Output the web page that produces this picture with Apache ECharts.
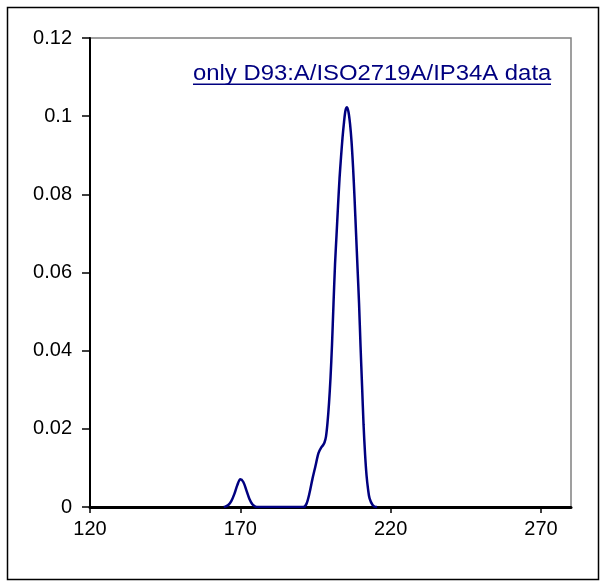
<!DOCTYPE html>
<html>
<head>
<meta charset="utf-8">
<script src="https://cdn.jsdelivr.net/npm/echarts@6/dist/echarts.min.js"></script>
<style>
html,body{margin:0;padding:0;background:#fff;}
#chart{width:601px;height:582px;}
</style>
</head>
<body>
<div id="chart"></div>
<script>
// Data
var xValues = [164.5,165,166,167,168,169,170,171,172,173,174,175,176,180,185,190,191,192,193,194,195,196,197,197.5,198,198.5,199,199.5,200,200.5,201,201.5,202,202.5,203,203.5,204,204.5,205,205.5,206,206.5,207,207.5,208,208.5,209,209.5,210,210.5,211,211.5,212,212.5,213,214,215,215.5];
var yValues = [0,0.0001,0.0005,0.0015,0.0033,0.0056,0.0071,0.0064,0.0043,0.0021,0.0007,0.0001,0,0,0,0,0,0.0008,0.0035,0.0072,0.0105,0.0138,0.0153,0.0158,0.0165,0.018,0.0215,0.0265,0.033,0.0415,0.052,0.062,0.0695,0.077,0.084,0.0895,0.0945,0.0985,0.1015,0.1023,0.101,0.098,0.0935,0.087,0.079,0.07,0.061,0.052,0.041,0.031,0.021,0.0135,0.008,0.0045,0.0022,0.0005,0,0];
var xTicks = [120,170,220,270];
var yTicks = [0,0.02,0.04,0.06,0.08,0.1,0.12];
var annotation = 'only D93:A/ISO2719A/IP34A data';

var points = xValues.map(function(x,i){return [x,yValues[i]];});
var chart = echarts.init(document.getElementById('chart'), null, {renderer:'canvas'});
var font = 'Arial, "Liberation Sans", sans-serif';
chart.setOption({
  animation:false,
  backgroundColor:'#fff',
  grid:{left:90,right:30,top:38,bottom:75,show:true,borderColor:'#808080',borderWidth:1.5,backgroundColor:'transparent'},
  xAxis:{
    type:'value',min:120,max:280,interval:50,
    axisLine:{show:true,onZero:false,lineStyle:{color:'#000',width:3}},
    axisTick:{show:true,length:6,customValues:xTicks,lineStyle:{color:'#000',width:1.5}},
    axisLabel:{customValues:xTicks,color:'#000',fontSize:20,fontFamily:font,margin:12,
      formatter:function(v){return xTicks.indexOf(v)>=0?String(v):'';}},
    splitLine:{show:false}
  },
  yAxis:{
    type:'value',min:0,max:0.12,interval:0.02,
    axisLine:{show:true,lineStyle:{color:'#000',width:2}},
    axisTick:{show:true,length:8,customValues:yTicks,lineStyle:{color:'#000',width:1.5}},
    axisLabel:{customValues:yTicks,color:'#000',fontSize:20,fontFamily:font,margin:18},
    splitLine:{show:false}
  },
  series:[{
    type:'line',data:points,smooth:0.3,symbol:'none',
    lineStyle:{color:'#000080',width:2.5},z:5
  }],
  graphic:[
    {type:'rect',left:5,top:5,shape:{width:591,height:572},style:{fill:'none',stroke:'#000',lineWidth:1.5},silent:true,z:-1},
    {type:'text',x:193,y:63,scaleX:1.085,style:{text:annotation,fill:'#000080',font:'22px '+font},z:10},
    {type:'rect',left:193,top:83.5,shape:{width:358,height:1.5},style:{fill:'#000080'},z:10}
  ]
});
</script>
</body>
</html>
